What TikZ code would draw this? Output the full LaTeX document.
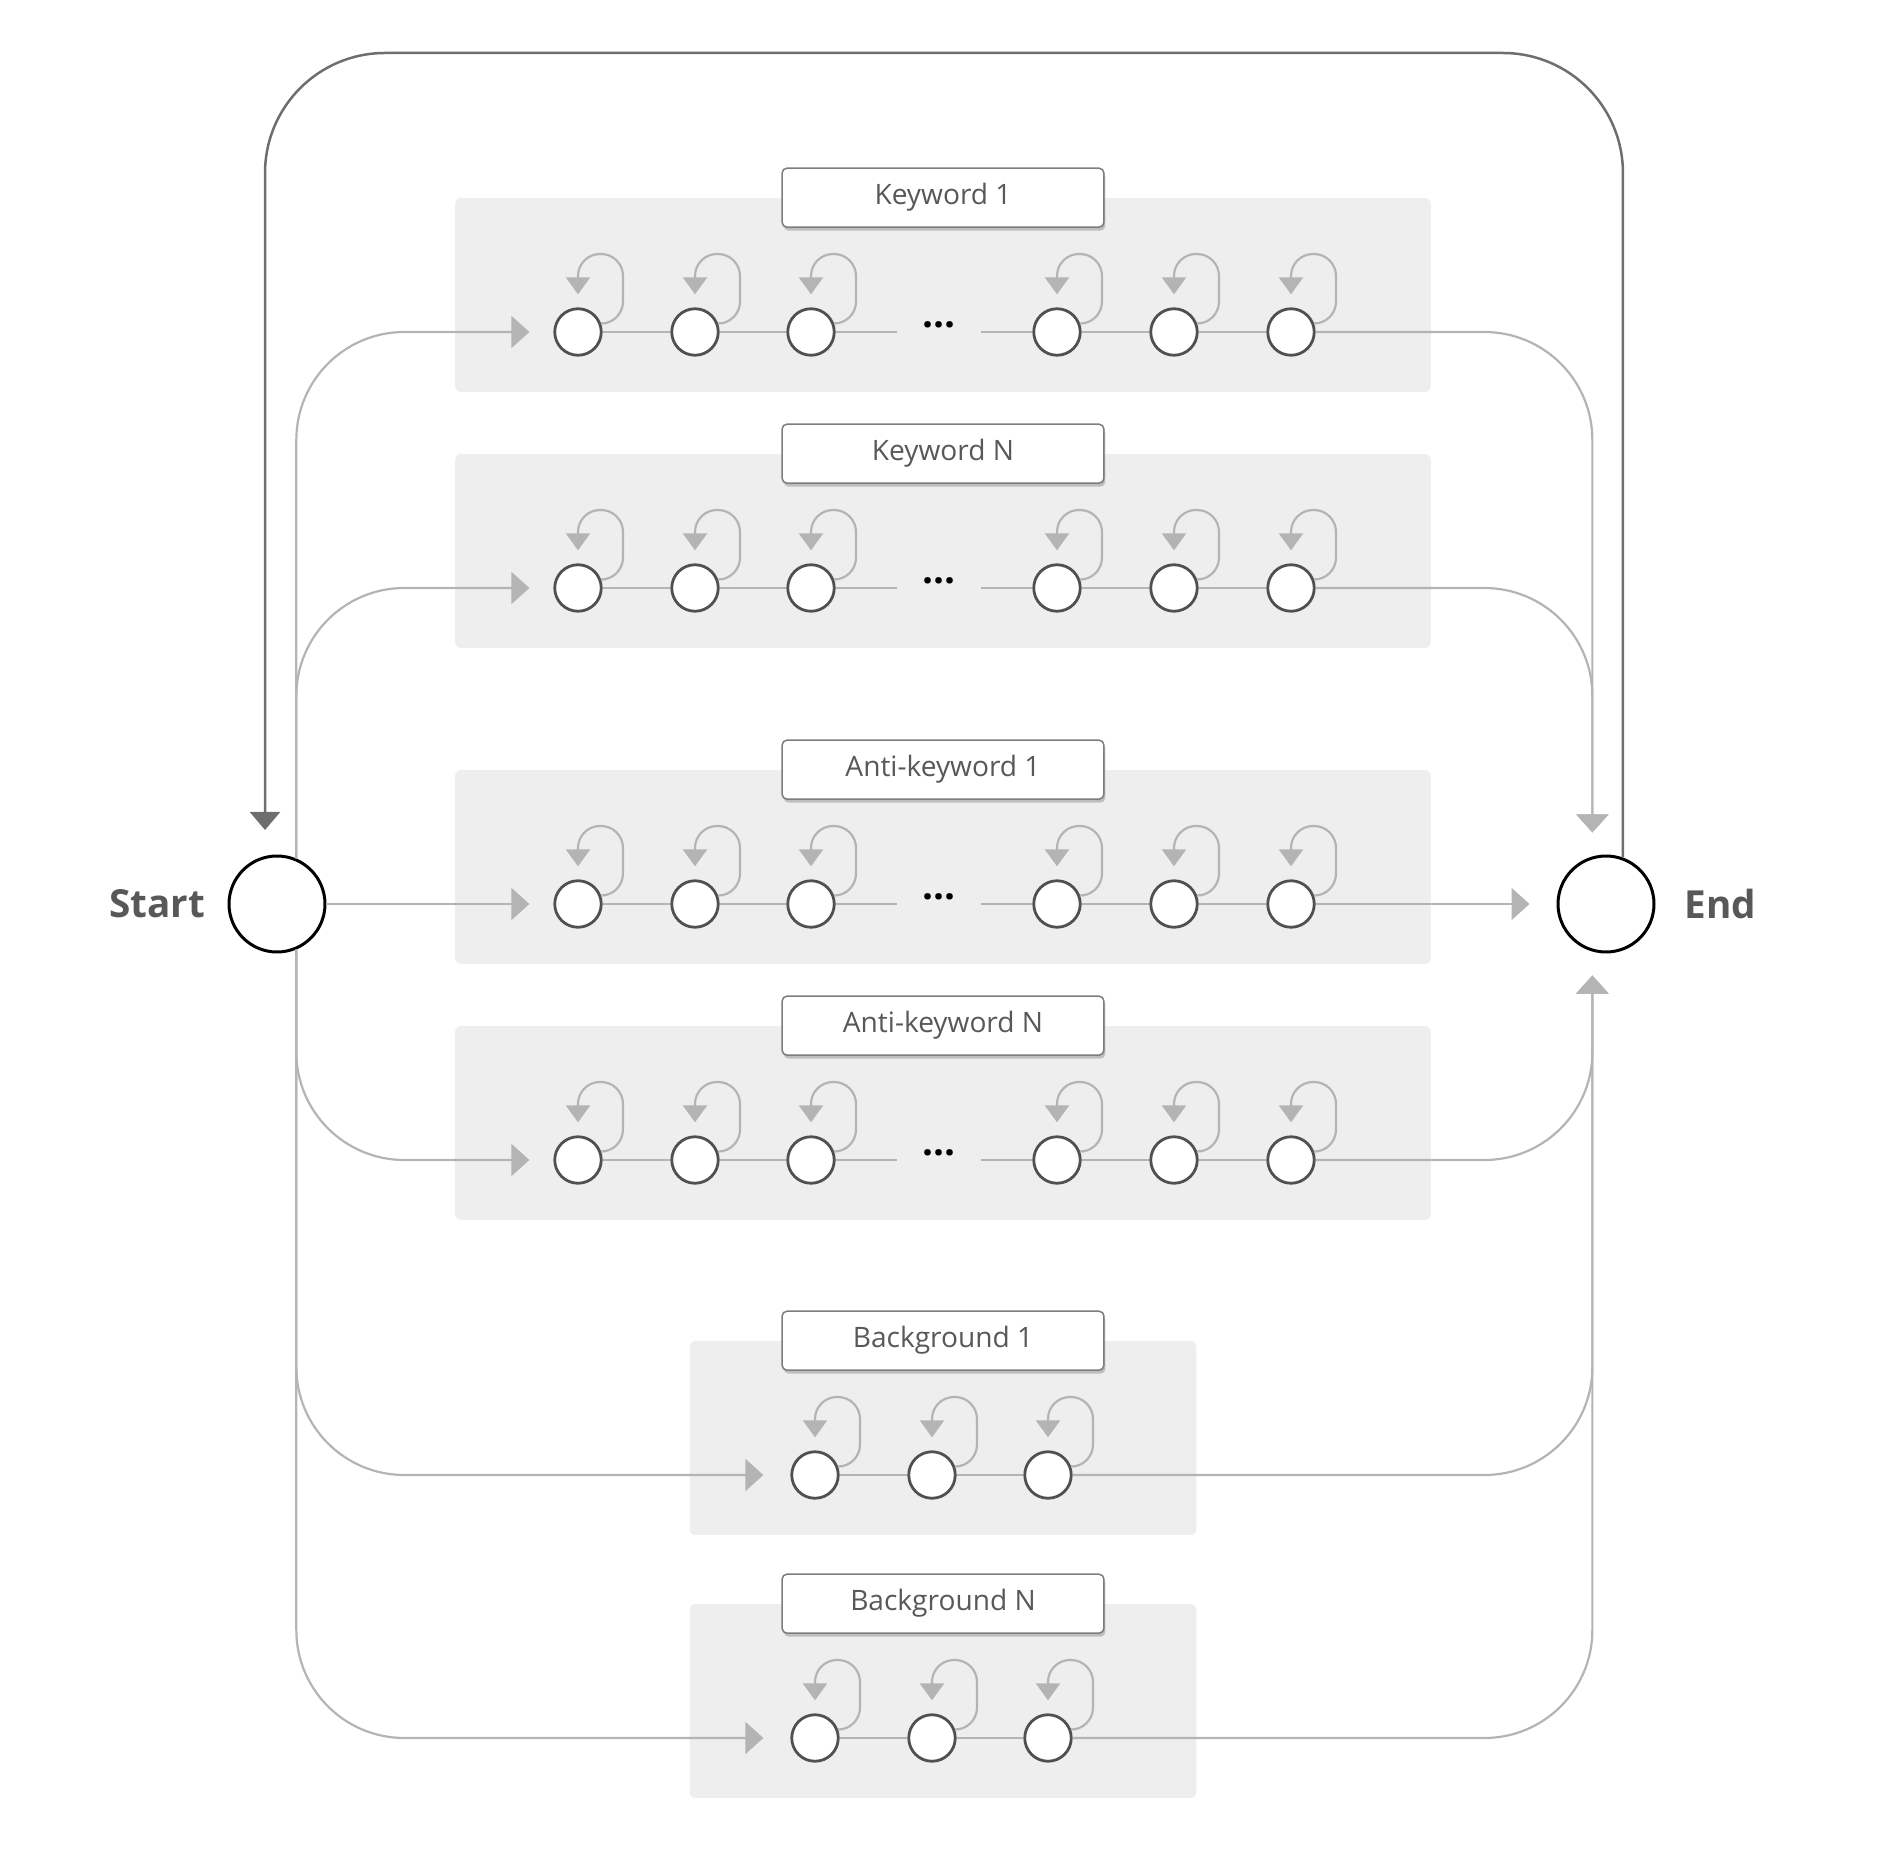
\documentclass[tikz,border=0pt]{standalone}
\usepackage{fontspec}
\setmainfont{Open Sans}
\usetikzlibrary{arrows.meta}
\usetikzlibrary{positioning}
\usetikzlibrary{shadows}
\definecolor{wiregray}{RGB}{180,180,180}
\definecolor{panelgray}{RGB}{238,238,238}
\definecolor{stategray}{RGB}{80,80,80}
\definecolor{taggray}{RGB}{125,125,125}
\definecolor{textgray}{RGB}{88,88,88}
\definecolor{loopgray}{RGB}{110,110,110}

\begin{document}
\begin{tikzpicture}[
    x=0.02cm, y=-0.02cm,  % one unit = one pixel, y grows downwards
    panel/.style={
        rectangle,
        fill=panelgray,
        rounded corners=0.12cm,
        minimum height=3.88cm,
        inner sep=0pt
    },
    tag/.style={
        rectangle,
        draw=taggray,
        fill=white,
        line width=0.03cm,
        rounded corners=0.1cm,
        minimum width=6.44cm,
        minimum height=1.18cm,
        font=\fontsize{16}{18}\selectfont,
        text=textgray,
        drop shadow={shadow xshift=0.03cm, shadow yshift=-0.07cm, opacity=0.35, fill=black!60}
    },
    state/.style={
        circle,
        draw=stategray,
        fill=white,
        line width=0.056cm,
        minimum size=0.93cm,
        inner sep=0pt
    },
    terminal/.style={
        circle,
        draw=black,
        fill=white,
        line width=0.06cm,
        minimum size=1.92cm,
        inner sep=0pt
    },
    termtext/.style={
        font=\fontsize{22}{26}\selectfont\bfseries,
        text=textgray,
        inner sep=0pt
    },
    dots/.style={
        inner sep=0pt,
        minimum width=1.68cm,
        text height=4pt,
        text depth=8.6pt,
        font=\fontsize{22}{24}\selectfont\bfseries
    },
    wire/.style={draw=wiregray, line width=0.044cm},
    bus/.style={
        wire,
        rounded corners=2.16cm,
        -{Triangle[length=0.36cm, width=0.64cm]},
        shorten >=0.48cm
    },
    selfloop/.style={
        wire,
        rounded corners=0.44cm,
        -{Triangle[length=0.34cm, width=0.48cm]}
    },
    feedback/.style={
        draw=loopgray,
        line width=0.05cm,
        rounded corners=2.4cm,
        -{Triangle[length=0.36cm, width=0.6cm]},
        shorten >=0.52cm
    }
]
\useasboundingbox (0,0) rectangle (1891,1851);

% Start and end states
\node[terminal] (start) at (277,904) {};
\node[terminal] (end) at (1606,904) {};
\node[termtext, left=0.44cm of start] (starttext) {Start};
\node[termtext, right=0.58cm of end] (endtext) {End};

% Keyword and anti-keyword models
\foreach \row/\y/\lab in {kwa/332/Keyword 1, kwb/588/Keyword N, akwa/904/Anti-keyword 1, akwb/1160/Anti-keyword N}{
    \node[panel, minimum width=19.52cm] (\row-panel) at (943,\y-37) {};
    \node[tag] (\row-tag) at (\row-panel.north) {\lab};
    \foreach \i/\x in {1/578,2/695,3/811,4/1057,5/1174,6/1291}
        \node[state] (\row-\i) at (\x,\y) {};
    \node[dots] (\row-dots) at (939,\y) {...};
    \draw[wire] (\row-1) -- (\row-2) -- (\row-3) -- (\row-dots) -- (\row-4) -- (\row-5) -- (\row-6);
    \foreach \i in {1,...,6}
        \draw[selfloop] (\row-\i.20) -| ([shift={(45,-78)}]\row-\i.center) -| ([shift={(0,-13)}]\row-\i.north);
}

% Background models
\foreach \row/\y/\lab in {bga/1475/Background 1, bgb/1738/Background N}{
    \node[panel, minimum width=10.14cm] (\row-panel) at (943,\y-37) {};
    \node[tag] (\row-tag) at (\row-panel.north) {\lab};
    \foreach \i/\x in {1/815,2/932,3/1048}
        \node[state] (\row-\i) at (\x,\y) {};
    \draw[wire] (\row-1) -- (\row-2) -- (\row-3);
    \foreach \i in {1,2,3}
        \draw[selfloop] (\row-\i.20) -| ([shift={(45,-78)}]\row-\i.center) -| ([shift={(0,-13)}]\row-\i.north);
}

% Start to models
\draw[bus] (start.67) |- (kwa-1);
\draw[bus] (start.67) |- (kwb-1);
\draw[bus] (start) -- (akwa-1);
\draw[bus] (start.-67) |- (akwb-1);
\draw[bus, shorten >=0.54cm] (start.-67) |- (bga-1);
\draw[bus, shorten >=0.54cm] (start.-67) |- (bgb-1);

% Models to end
\draw[bus] (kwa-6) -| (end.106);
\draw[bus] (kwb-6) -| (end.106);
\draw[bus, shorten >=0.54cm] (akwa-6) -- (end);
\draw[bus] (akwb-6) -| (end.-106);
\draw[bus] (bga-3) -| (end.-106);
\draw[bus] (bgb-3) -| (end.-106);

% End back to start
\coordinate (looptop) at (0,53);
\draw[feedback] (end.70) |- (start.104 |- looptop) -- (start.104);

\end{tikzpicture}
\end{document}
